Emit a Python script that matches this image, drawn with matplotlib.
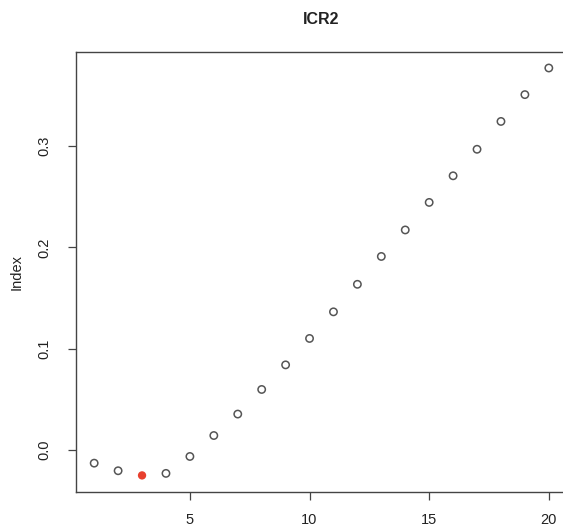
import matplotlib
matplotlib.use("Agg")
import matplotlib.pyplot as plt
import numpy as np

plt.rcParams['font.family'] = ['Liberation Sans', 'DejaVu Sans']

title = "ICR2"
ylabel = "Index"
k_values = list(range(1, 21))
index_values = [-0.0131, -0.0206, -0.0252, -0.0232, -0.0065, 0.0142, 0.0354, 0.0597,
                0.0840, 0.1101, 0.1364, 0.1636, 0.1911, 0.2173, 0.2445, 0.2708,
                0.2970, 0.3245, 0.3510, 0.3773]
highlight_k = 3
x_ticks = [5, 10, 15, 20]
y_ticks = [0.0, 0.1, 0.2, 0.3]

W, H = 563, 531
fig = plt.figure(figsize=(W / 100, H / 100), dpi=100)
left, right, top, bottom = 76, 567, 51.7, 491.7
ax = fig.add_axes([left / W, (H - bottom) / H, (right - left) / W, (bottom - top) / H])

xs = np.array(k_values)
ys = np.array(index_values)
mask = xs != highlight_k
ax.scatter(xs[mask], ys[mask], s=28, facecolors='none', edgecolors='#555555', linewidths=1.1, zorder=3)
ax.scatter(xs[~mask], ys[~mask], s=36, color='#E8402E', edgecolors='none', zorder=4)

ax.margins(x=0.04, y=0.04)

for s in ['left', 'top', 'bottom', 'right']:
    ax.spines[s].set_color('#444444')
    ax.spines[s].set_linewidth(1.0)

ax.set_xticks(x_ticks)
ax.set_xticklabels([str(v) for v in x_ticks])
ax.set_yticks(y_ticks)
ax.set_yticklabels([f"{v:.1f}" for v in y_ticks], rotation=90, va='center')
ax.tick_params(axis='both', direction='out', length=6, width=0.9, colors='#444444',
               labelsize=10.5, labelcolor='#222222')
ax.tick_params(axis='x', pad=9)
ax.tick_params(axis='y', pad=12)

fig.text(17 / W, 1 - ((top + bottom) / 2) / H, ylabel, rotation=90, ha='center', va='center',
         fontsize=10.5, color='#222222')
fig.text(((left + right) / 2) / W, 1 - 20 / H, title, ha='center', va='center',
         fontsize=11.5, fontweight='bold', color='#222222')

fig.savefig("out.png", dpi=100)
